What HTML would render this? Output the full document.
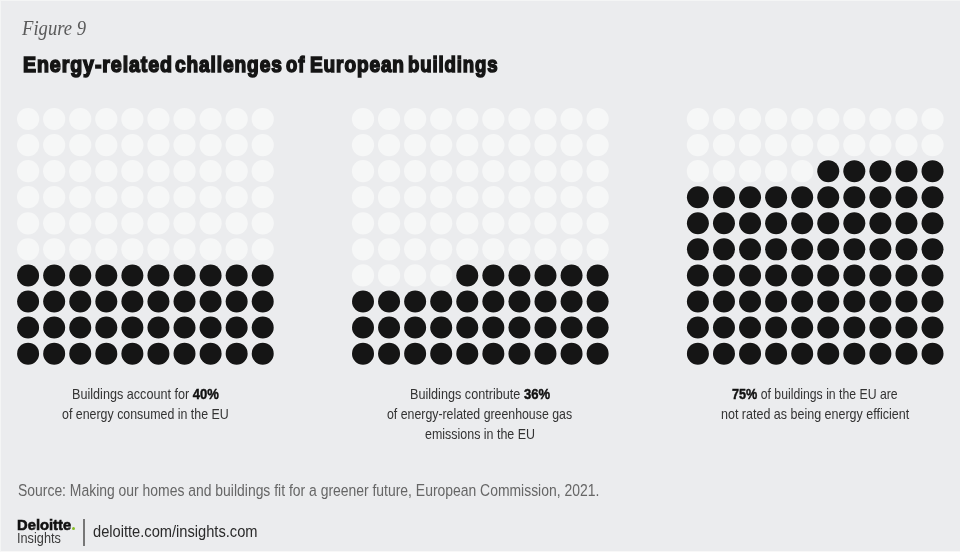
<!DOCTYPE html>
<html><head><meta charset="utf-8"><title>Energy-related challenges of European buildings</title>
<style>
html,body{margin:0;padding:0;}
body{width:960px;height:552px;overflow:hidden;background:#ebecee;position:relative;font-family:'Liberation Sans',Arial,sans-serif;}
#wrap{position:absolute;left:0;top:0;width:960px;height:552px;will-change:transform;}
.frame{position:absolute;left:0;top:0;width:960px;height:552px;box-sizing:border-box;border-top:1px solid #f4f5f5;border-left:1px solid #f4f5f5;border-bottom:1px solid #f8f8f8;}
.t{position:absolute;white-space:nowrap;line-height:20px;transform-origin:0 0;}
.dot{position:absolute;left:71.9px;top:526.7px;width:3.2px;height:3.2px;border-radius:50%;background:#86bc25;}
.sep{position:absolute;left:83.3px;top:519px;width:1.4px;height:27px;background:#777;}
svg{position:absolute;left:0;top:0;}
</style></head><body><div id="wrap">
<div class="frame"></div>
<svg width="960" height="552" viewBox="0 0 960 552">
<circle cx="28.10" cy="119.00" r="11.10" fill="#f6f7f7"/>
<circle cx="54.17" cy="119.00" r="11.10" fill="#f6f7f7"/>
<circle cx="80.24" cy="119.00" r="11.10" fill="#f6f7f7"/>
<circle cx="106.31" cy="119.00" r="11.10" fill="#f6f7f7"/>
<circle cx="132.38" cy="119.00" r="11.10" fill="#f6f7f7"/>
<circle cx="158.45" cy="119.00" r="11.10" fill="#f6f7f7"/>
<circle cx="184.52" cy="119.00" r="11.10" fill="#f6f7f7"/>
<circle cx="210.59" cy="119.00" r="11.10" fill="#f6f7f7"/>
<circle cx="236.66" cy="119.00" r="11.10" fill="#f6f7f7"/>
<circle cx="262.73" cy="119.00" r="11.10" fill="#f6f7f7"/>
<circle cx="28.10" cy="145.07" r="11.10" fill="#f6f7f7"/>
<circle cx="54.17" cy="145.07" r="11.10" fill="#f6f7f7"/>
<circle cx="80.24" cy="145.07" r="11.10" fill="#f6f7f7"/>
<circle cx="106.31" cy="145.07" r="11.10" fill="#f6f7f7"/>
<circle cx="132.38" cy="145.07" r="11.10" fill="#f6f7f7"/>
<circle cx="158.45" cy="145.07" r="11.10" fill="#f6f7f7"/>
<circle cx="184.52" cy="145.07" r="11.10" fill="#f6f7f7"/>
<circle cx="210.59" cy="145.07" r="11.10" fill="#f6f7f7"/>
<circle cx="236.66" cy="145.07" r="11.10" fill="#f6f7f7"/>
<circle cx="262.73" cy="145.07" r="11.10" fill="#f6f7f7"/>
<circle cx="28.10" cy="171.14" r="11.10" fill="#f6f7f7"/>
<circle cx="54.17" cy="171.14" r="11.10" fill="#f6f7f7"/>
<circle cx="80.24" cy="171.14" r="11.10" fill="#f6f7f7"/>
<circle cx="106.31" cy="171.14" r="11.10" fill="#f6f7f7"/>
<circle cx="132.38" cy="171.14" r="11.10" fill="#f6f7f7"/>
<circle cx="158.45" cy="171.14" r="11.10" fill="#f6f7f7"/>
<circle cx="184.52" cy="171.14" r="11.10" fill="#f6f7f7"/>
<circle cx="210.59" cy="171.14" r="11.10" fill="#f6f7f7"/>
<circle cx="236.66" cy="171.14" r="11.10" fill="#f6f7f7"/>
<circle cx="262.73" cy="171.14" r="11.10" fill="#f6f7f7"/>
<circle cx="28.10" cy="197.21" r="11.10" fill="#f6f7f7"/>
<circle cx="54.17" cy="197.21" r="11.10" fill="#f6f7f7"/>
<circle cx="80.24" cy="197.21" r="11.10" fill="#f6f7f7"/>
<circle cx="106.31" cy="197.21" r="11.10" fill="#f6f7f7"/>
<circle cx="132.38" cy="197.21" r="11.10" fill="#f6f7f7"/>
<circle cx="158.45" cy="197.21" r="11.10" fill="#f6f7f7"/>
<circle cx="184.52" cy="197.21" r="11.10" fill="#f6f7f7"/>
<circle cx="210.59" cy="197.21" r="11.10" fill="#f6f7f7"/>
<circle cx="236.66" cy="197.21" r="11.10" fill="#f6f7f7"/>
<circle cx="262.73" cy="197.21" r="11.10" fill="#f6f7f7"/>
<circle cx="28.10" cy="223.28" r="11.10" fill="#f6f7f7"/>
<circle cx="54.17" cy="223.28" r="11.10" fill="#f6f7f7"/>
<circle cx="80.24" cy="223.28" r="11.10" fill="#f6f7f7"/>
<circle cx="106.31" cy="223.28" r="11.10" fill="#f6f7f7"/>
<circle cx="132.38" cy="223.28" r="11.10" fill="#f6f7f7"/>
<circle cx="158.45" cy="223.28" r="11.10" fill="#f6f7f7"/>
<circle cx="184.52" cy="223.28" r="11.10" fill="#f6f7f7"/>
<circle cx="210.59" cy="223.28" r="11.10" fill="#f6f7f7"/>
<circle cx="236.66" cy="223.28" r="11.10" fill="#f6f7f7"/>
<circle cx="262.73" cy="223.28" r="11.10" fill="#f6f7f7"/>
<circle cx="28.10" cy="249.35" r="11.10" fill="#f6f7f7"/>
<circle cx="54.17" cy="249.35" r="11.10" fill="#f6f7f7"/>
<circle cx="80.24" cy="249.35" r="11.10" fill="#f6f7f7"/>
<circle cx="106.31" cy="249.35" r="11.10" fill="#f6f7f7"/>
<circle cx="132.38" cy="249.35" r="11.10" fill="#f6f7f7"/>
<circle cx="158.45" cy="249.35" r="11.10" fill="#f6f7f7"/>
<circle cx="184.52" cy="249.35" r="11.10" fill="#f6f7f7"/>
<circle cx="210.59" cy="249.35" r="11.10" fill="#f6f7f7"/>
<circle cx="236.66" cy="249.35" r="11.10" fill="#f6f7f7"/>
<circle cx="262.73" cy="249.35" r="11.10" fill="#f6f7f7"/>
<circle cx="28.10" cy="275.42" r="11.60" fill="#f2f3f4"/>
<circle cx="28.10" cy="275.42" r="11.00" fill="#151515"/>
<circle cx="54.17" cy="275.42" r="11.60" fill="#f2f3f4"/>
<circle cx="54.17" cy="275.42" r="11.00" fill="#151515"/>
<circle cx="80.24" cy="275.42" r="11.60" fill="#f2f3f4"/>
<circle cx="80.24" cy="275.42" r="11.00" fill="#151515"/>
<circle cx="106.31" cy="275.42" r="11.60" fill="#f2f3f4"/>
<circle cx="106.31" cy="275.42" r="11.00" fill="#151515"/>
<circle cx="132.38" cy="275.42" r="11.60" fill="#f2f3f4"/>
<circle cx="132.38" cy="275.42" r="11.00" fill="#151515"/>
<circle cx="158.45" cy="275.42" r="11.60" fill="#f2f3f4"/>
<circle cx="158.45" cy="275.42" r="11.00" fill="#151515"/>
<circle cx="184.52" cy="275.42" r="11.60" fill="#f2f3f4"/>
<circle cx="184.52" cy="275.42" r="11.00" fill="#151515"/>
<circle cx="210.59" cy="275.42" r="11.60" fill="#f2f3f4"/>
<circle cx="210.59" cy="275.42" r="11.00" fill="#151515"/>
<circle cx="236.66" cy="275.42" r="11.60" fill="#f2f3f4"/>
<circle cx="236.66" cy="275.42" r="11.00" fill="#151515"/>
<circle cx="262.73" cy="275.42" r="11.60" fill="#f2f3f4"/>
<circle cx="262.73" cy="275.42" r="11.00" fill="#151515"/>
<circle cx="28.10" cy="301.49" r="11.60" fill="#f2f3f4"/>
<circle cx="28.10" cy="301.49" r="11.00" fill="#151515"/>
<circle cx="54.17" cy="301.49" r="11.60" fill="#f2f3f4"/>
<circle cx="54.17" cy="301.49" r="11.00" fill="#151515"/>
<circle cx="80.24" cy="301.49" r="11.60" fill="#f2f3f4"/>
<circle cx="80.24" cy="301.49" r="11.00" fill="#151515"/>
<circle cx="106.31" cy="301.49" r="11.60" fill="#f2f3f4"/>
<circle cx="106.31" cy="301.49" r="11.00" fill="#151515"/>
<circle cx="132.38" cy="301.49" r="11.60" fill="#f2f3f4"/>
<circle cx="132.38" cy="301.49" r="11.00" fill="#151515"/>
<circle cx="158.45" cy="301.49" r="11.60" fill="#f2f3f4"/>
<circle cx="158.45" cy="301.49" r="11.00" fill="#151515"/>
<circle cx="184.52" cy="301.49" r="11.60" fill="#f2f3f4"/>
<circle cx="184.52" cy="301.49" r="11.00" fill="#151515"/>
<circle cx="210.59" cy="301.49" r="11.60" fill="#f2f3f4"/>
<circle cx="210.59" cy="301.49" r="11.00" fill="#151515"/>
<circle cx="236.66" cy="301.49" r="11.60" fill="#f2f3f4"/>
<circle cx="236.66" cy="301.49" r="11.00" fill="#151515"/>
<circle cx="262.73" cy="301.49" r="11.60" fill="#f2f3f4"/>
<circle cx="262.73" cy="301.49" r="11.00" fill="#151515"/>
<circle cx="28.10" cy="327.56" r="11.60" fill="#f2f3f4"/>
<circle cx="28.10" cy="327.56" r="11.00" fill="#151515"/>
<circle cx="54.17" cy="327.56" r="11.60" fill="#f2f3f4"/>
<circle cx="54.17" cy="327.56" r="11.00" fill="#151515"/>
<circle cx="80.24" cy="327.56" r="11.60" fill="#f2f3f4"/>
<circle cx="80.24" cy="327.56" r="11.00" fill="#151515"/>
<circle cx="106.31" cy="327.56" r="11.60" fill="#f2f3f4"/>
<circle cx="106.31" cy="327.56" r="11.00" fill="#151515"/>
<circle cx="132.38" cy="327.56" r="11.60" fill="#f2f3f4"/>
<circle cx="132.38" cy="327.56" r="11.00" fill="#151515"/>
<circle cx="158.45" cy="327.56" r="11.60" fill="#f2f3f4"/>
<circle cx="158.45" cy="327.56" r="11.00" fill="#151515"/>
<circle cx="184.52" cy="327.56" r="11.60" fill="#f2f3f4"/>
<circle cx="184.52" cy="327.56" r="11.00" fill="#151515"/>
<circle cx="210.59" cy="327.56" r="11.60" fill="#f2f3f4"/>
<circle cx="210.59" cy="327.56" r="11.00" fill="#151515"/>
<circle cx="236.66" cy="327.56" r="11.60" fill="#f2f3f4"/>
<circle cx="236.66" cy="327.56" r="11.00" fill="#151515"/>
<circle cx="262.73" cy="327.56" r="11.60" fill="#f2f3f4"/>
<circle cx="262.73" cy="327.56" r="11.00" fill="#151515"/>
<circle cx="28.10" cy="353.63" r="11.60" fill="#f2f3f4"/>
<circle cx="28.10" cy="353.63" r="11.00" fill="#151515"/>
<circle cx="54.17" cy="353.63" r="11.60" fill="#f2f3f4"/>
<circle cx="54.17" cy="353.63" r="11.00" fill="#151515"/>
<circle cx="80.24" cy="353.63" r="11.60" fill="#f2f3f4"/>
<circle cx="80.24" cy="353.63" r="11.00" fill="#151515"/>
<circle cx="106.31" cy="353.63" r="11.60" fill="#f2f3f4"/>
<circle cx="106.31" cy="353.63" r="11.00" fill="#151515"/>
<circle cx="132.38" cy="353.63" r="11.60" fill="#f2f3f4"/>
<circle cx="132.38" cy="353.63" r="11.00" fill="#151515"/>
<circle cx="158.45" cy="353.63" r="11.60" fill="#f2f3f4"/>
<circle cx="158.45" cy="353.63" r="11.00" fill="#151515"/>
<circle cx="184.52" cy="353.63" r="11.60" fill="#f2f3f4"/>
<circle cx="184.52" cy="353.63" r="11.00" fill="#151515"/>
<circle cx="210.59" cy="353.63" r="11.60" fill="#f2f3f4"/>
<circle cx="210.59" cy="353.63" r="11.00" fill="#151515"/>
<circle cx="236.66" cy="353.63" r="11.60" fill="#f2f3f4"/>
<circle cx="236.66" cy="353.63" r="11.00" fill="#151515"/>
<circle cx="262.73" cy="353.63" r="11.60" fill="#f2f3f4"/>
<circle cx="262.73" cy="353.63" r="11.00" fill="#151515"/>
<circle cx="363.00" cy="119.00" r="11.10" fill="#f6f7f7"/>
<circle cx="389.07" cy="119.00" r="11.10" fill="#f6f7f7"/>
<circle cx="415.14" cy="119.00" r="11.10" fill="#f6f7f7"/>
<circle cx="441.21" cy="119.00" r="11.10" fill="#f6f7f7"/>
<circle cx="467.28" cy="119.00" r="11.10" fill="#f6f7f7"/>
<circle cx="493.35" cy="119.00" r="11.10" fill="#f6f7f7"/>
<circle cx="519.42" cy="119.00" r="11.10" fill="#f6f7f7"/>
<circle cx="545.49" cy="119.00" r="11.10" fill="#f6f7f7"/>
<circle cx="571.56" cy="119.00" r="11.10" fill="#f6f7f7"/>
<circle cx="597.63" cy="119.00" r="11.10" fill="#f6f7f7"/>
<circle cx="363.00" cy="145.07" r="11.10" fill="#f6f7f7"/>
<circle cx="389.07" cy="145.07" r="11.10" fill="#f6f7f7"/>
<circle cx="415.14" cy="145.07" r="11.10" fill="#f6f7f7"/>
<circle cx="441.21" cy="145.07" r="11.10" fill="#f6f7f7"/>
<circle cx="467.28" cy="145.07" r="11.10" fill="#f6f7f7"/>
<circle cx="493.35" cy="145.07" r="11.10" fill="#f6f7f7"/>
<circle cx="519.42" cy="145.07" r="11.10" fill="#f6f7f7"/>
<circle cx="545.49" cy="145.07" r="11.10" fill="#f6f7f7"/>
<circle cx="571.56" cy="145.07" r="11.10" fill="#f6f7f7"/>
<circle cx="597.63" cy="145.07" r="11.10" fill="#f6f7f7"/>
<circle cx="363.00" cy="171.14" r="11.10" fill="#f6f7f7"/>
<circle cx="389.07" cy="171.14" r="11.10" fill="#f6f7f7"/>
<circle cx="415.14" cy="171.14" r="11.10" fill="#f6f7f7"/>
<circle cx="441.21" cy="171.14" r="11.10" fill="#f6f7f7"/>
<circle cx="467.28" cy="171.14" r="11.10" fill="#f6f7f7"/>
<circle cx="493.35" cy="171.14" r="11.10" fill="#f6f7f7"/>
<circle cx="519.42" cy="171.14" r="11.10" fill="#f6f7f7"/>
<circle cx="545.49" cy="171.14" r="11.10" fill="#f6f7f7"/>
<circle cx="571.56" cy="171.14" r="11.10" fill="#f6f7f7"/>
<circle cx="597.63" cy="171.14" r="11.10" fill="#f6f7f7"/>
<circle cx="363.00" cy="197.21" r="11.10" fill="#f6f7f7"/>
<circle cx="389.07" cy="197.21" r="11.10" fill="#f6f7f7"/>
<circle cx="415.14" cy="197.21" r="11.10" fill="#f6f7f7"/>
<circle cx="441.21" cy="197.21" r="11.10" fill="#f6f7f7"/>
<circle cx="467.28" cy="197.21" r="11.10" fill="#f6f7f7"/>
<circle cx="493.35" cy="197.21" r="11.10" fill="#f6f7f7"/>
<circle cx="519.42" cy="197.21" r="11.10" fill="#f6f7f7"/>
<circle cx="545.49" cy="197.21" r="11.10" fill="#f6f7f7"/>
<circle cx="571.56" cy="197.21" r="11.10" fill="#f6f7f7"/>
<circle cx="597.63" cy="197.21" r="11.10" fill="#f6f7f7"/>
<circle cx="363.00" cy="223.28" r="11.10" fill="#f6f7f7"/>
<circle cx="389.07" cy="223.28" r="11.10" fill="#f6f7f7"/>
<circle cx="415.14" cy="223.28" r="11.10" fill="#f6f7f7"/>
<circle cx="441.21" cy="223.28" r="11.10" fill="#f6f7f7"/>
<circle cx="467.28" cy="223.28" r="11.10" fill="#f6f7f7"/>
<circle cx="493.35" cy="223.28" r="11.10" fill="#f6f7f7"/>
<circle cx="519.42" cy="223.28" r="11.10" fill="#f6f7f7"/>
<circle cx="545.49" cy="223.28" r="11.10" fill="#f6f7f7"/>
<circle cx="571.56" cy="223.28" r="11.10" fill="#f6f7f7"/>
<circle cx="597.63" cy="223.28" r="11.10" fill="#f6f7f7"/>
<circle cx="363.00" cy="249.35" r="11.10" fill="#f6f7f7"/>
<circle cx="389.07" cy="249.35" r="11.10" fill="#f6f7f7"/>
<circle cx="415.14" cy="249.35" r="11.10" fill="#f6f7f7"/>
<circle cx="441.21" cy="249.35" r="11.10" fill="#f6f7f7"/>
<circle cx="467.28" cy="249.35" r="11.10" fill="#f6f7f7"/>
<circle cx="493.35" cy="249.35" r="11.10" fill="#f6f7f7"/>
<circle cx="519.42" cy="249.35" r="11.10" fill="#f6f7f7"/>
<circle cx="545.49" cy="249.35" r="11.10" fill="#f6f7f7"/>
<circle cx="571.56" cy="249.35" r="11.10" fill="#f6f7f7"/>
<circle cx="597.63" cy="249.35" r="11.10" fill="#f6f7f7"/>
<circle cx="363.00" cy="275.42" r="11.10" fill="#f6f7f7"/>
<circle cx="389.07" cy="275.42" r="11.10" fill="#f6f7f7"/>
<circle cx="415.14" cy="275.42" r="11.10" fill="#f6f7f7"/>
<circle cx="441.21" cy="275.42" r="11.10" fill="#f6f7f7"/>
<circle cx="467.28" cy="275.42" r="11.60" fill="#f2f3f4"/>
<circle cx="467.28" cy="275.42" r="11.00" fill="#151515"/>
<circle cx="493.35" cy="275.42" r="11.60" fill="#f2f3f4"/>
<circle cx="493.35" cy="275.42" r="11.00" fill="#151515"/>
<circle cx="519.42" cy="275.42" r="11.60" fill="#f2f3f4"/>
<circle cx="519.42" cy="275.42" r="11.00" fill="#151515"/>
<circle cx="545.49" cy="275.42" r="11.60" fill="#f2f3f4"/>
<circle cx="545.49" cy="275.42" r="11.00" fill="#151515"/>
<circle cx="571.56" cy="275.42" r="11.60" fill="#f2f3f4"/>
<circle cx="571.56" cy="275.42" r="11.00" fill="#151515"/>
<circle cx="597.63" cy="275.42" r="11.60" fill="#f2f3f4"/>
<circle cx="597.63" cy="275.42" r="11.00" fill="#151515"/>
<circle cx="363.00" cy="301.49" r="11.60" fill="#f2f3f4"/>
<circle cx="363.00" cy="301.49" r="11.00" fill="#151515"/>
<circle cx="389.07" cy="301.49" r="11.60" fill="#f2f3f4"/>
<circle cx="389.07" cy="301.49" r="11.00" fill="#151515"/>
<circle cx="415.14" cy="301.49" r="11.60" fill="#f2f3f4"/>
<circle cx="415.14" cy="301.49" r="11.00" fill="#151515"/>
<circle cx="441.21" cy="301.49" r="11.60" fill="#f2f3f4"/>
<circle cx="441.21" cy="301.49" r="11.00" fill="#151515"/>
<circle cx="467.28" cy="301.49" r="11.60" fill="#f2f3f4"/>
<circle cx="467.28" cy="301.49" r="11.00" fill="#151515"/>
<circle cx="493.35" cy="301.49" r="11.60" fill="#f2f3f4"/>
<circle cx="493.35" cy="301.49" r="11.00" fill="#151515"/>
<circle cx="519.42" cy="301.49" r="11.60" fill="#f2f3f4"/>
<circle cx="519.42" cy="301.49" r="11.00" fill="#151515"/>
<circle cx="545.49" cy="301.49" r="11.60" fill="#f2f3f4"/>
<circle cx="545.49" cy="301.49" r="11.00" fill="#151515"/>
<circle cx="571.56" cy="301.49" r="11.60" fill="#f2f3f4"/>
<circle cx="571.56" cy="301.49" r="11.00" fill="#151515"/>
<circle cx="597.63" cy="301.49" r="11.60" fill="#f2f3f4"/>
<circle cx="597.63" cy="301.49" r="11.00" fill="#151515"/>
<circle cx="363.00" cy="327.56" r="11.60" fill="#f2f3f4"/>
<circle cx="363.00" cy="327.56" r="11.00" fill="#151515"/>
<circle cx="389.07" cy="327.56" r="11.60" fill="#f2f3f4"/>
<circle cx="389.07" cy="327.56" r="11.00" fill="#151515"/>
<circle cx="415.14" cy="327.56" r="11.60" fill="#f2f3f4"/>
<circle cx="415.14" cy="327.56" r="11.00" fill="#151515"/>
<circle cx="441.21" cy="327.56" r="11.60" fill="#f2f3f4"/>
<circle cx="441.21" cy="327.56" r="11.00" fill="#151515"/>
<circle cx="467.28" cy="327.56" r="11.60" fill="#f2f3f4"/>
<circle cx="467.28" cy="327.56" r="11.00" fill="#151515"/>
<circle cx="493.35" cy="327.56" r="11.60" fill="#f2f3f4"/>
<circle cx="493.35" cy="327.56" r="11.00" fill="#151515"/>
<circle cx="519.42" cy="327.56" r="11.60" fill="#f2f3f4"/>
<circle cx="519.42" cy="327.56" r="11.00" fill="#151515"/>
<circle cx="545.49" cy="327.56" r="11.60" fill="#f2f3f4"/>
<circle cx="545.49" cy="327.56" r="11.00" fill="#151515"/>
<circle cx="571.56" cy="327.56" r="11.60" fill="#f2f3f4"/>
<circle cx="571.56" cy="327.56" r="11.00" fill="#151515"/>
<circle cx="597.63" cy="327.56" r="11.60" fill="#f2f3f4"/>
<circle cx="597.63" cy="327.56" r="11.00" fill="#151515"/>
<circle cx="363.00" cy="353.63" r="11.60" fill="#f2f3f4"/>
<circle cx="363.00" cy="353.63" r="11.00" fill="#151515"/>
<circle cx="389.07" cy="353.63" r="11.60" fill="#f2f3f4"/>
<circle cx="389.07" cy="353.63" r="11.00" fill="#151515"/>
<circle cx="415.14" cy="353.63" r="11.60" fill="#f2f3f4"/>
<circle cx="415.14" cy="353.63" r="11.00" fill="#151515"/>
<circle cx="441.21" cy="353.63" r="11.60" fill="#f2f3f4"/>
<circle cx="441.21" cy="353.63" r="11.00" fill="#151515"/>
<circle cx="467.28" cy="353.63" r="11.60" fill="#f2f3f4"/>
<circle cx="467.28" cy="353.63" r="11.00" fill="#151515"/>
<circle cx="493.35" cy="353.63" r="11.60" fill="#f2f3f4"/>
<circle cx="493.35" cy="353.63" r="11.00" fill="#151515"/>
<circle cx="519.42" cy="353.63" r="11.60" fill="#f2f3f4"/>
<circle cx="519.42" cy="353.63" r="11.00" fill="#151515"/>
<circle cx="545.49" cy="353.63" r="11.60" fill="#f2f3f4"/>
<circle cx="545.49" cy="353.63" r="11.00" fill="#151515"/>
<circle cx="571.56" cy="353.63" r="11.60" fill="#f2f3f4"/>
<circle cx="571.56" cy="353.63" r="11.00" fill="#151515"/>
<circle cx="597.63" cy="353.63" r="11.60" fill="#f2f3f4"/>
<circle cx="597.63" cy="353.63" r="11.00" fill="#151515"/>
<circle cx="697.90" cy="119.00" r="11.10" fill="#f6f7f7"/>
<circle cx="723.97" cy="119.00" r="11.10" fill="#f6f7f7"/>
<circle cx="750.04" cy="119.00" r="11.10" fill="#f6f7f7"/>
<circle cx="776.11" cy="119.00" r="11.10" fill="#f6f7f7"/>
<circle cx="802.18" cy="119.00" r="11.10" fill="#f6f7f7"/>
<circle cx="828.25" cy="119.00" r="11.10" fill="#f6f7f7"/>
<circle cx="854.32" cy="119.00" r="11.10" fill="#f6f7f7"/>
<circle cx="880.39" cy="119.00" r="11.10" fill="#f6f7f7"/>
<circle cx="906.46" cy="119.00" r="11.10" fill="#f6f7f7"/>
<circle cx="932.53" cy="119.00" r="11.10" fill="#f6f7f7"/>
<circle cx="697.90" cy="145.07" r="11.10" fill="#f6f7f7"/>
<circle cx="723.97" cy="145.07" r="11.10" fill="#f6f7f7"/>
<circle cx="750.04" cy="145.07" r="11.10" fill="#f6f7f7"/>
<circle cx="776.11" cy="145.07" r="11.10" fill="#f6f7f7"/>
<circle cx="802.18" cy="145.07" r="11.10" fill="#f6f7f7"/>
<circle cx="828.25" cy="145.07" r="11.10" fill="#f6f7f7"/>
<circle cx="854.32" cy="145.07" r="11.10" fill="#f6f7f7"/>
<circle cx="880.39" cy="145.07" r="11.10" fill="#f6f7f7"/>
<circle cx="906.46" cy="145.07" r="11.10" fill="#f6f7f7"/>
<circle cx="932.53" cy="145.07" r="11.10" fill="#f6f7f7"/>
<circle cx="697.90" cy="171.14" r="11.10" fill="#f6f7f7"/>
<circle cx="723.97" cy="171.14" r="11.10" fill="#f6f7f7"/>
<circle cx="750.04" cy="171.14" r="11.10" fill="#f6f7f7"/>
<circle cx="776.11" cy="171.14" r="11.10" fill="#f6f7f7"/>
<circle cx="802.18" cy="171.14" r="11.10" fill="#f6f7f7"/>
<circle cx="828.25" cy="171.14" r="11.60" fill="#f2f3f4"/>
<circle cx="828.25" cy="171.14" r="11.00" fill="#151515"/>
<circle cx="854.32" cy="171.14" r="11.60" fill="#f2f3f4"/>
<circle cx="854.32" cy="171.14" r="11.00" fill="#151515"/>
<circle cx="880.39" cy="171.14" r="11.60" fill="#f2f3f4"/>
<circle cx="880.39" cy="171.14" r="11.00" fill="#151515"/>
<circle cx="906.46" cy="171.14" r="11.60" fill="#f2f3f4"/>
<circle cx="906.46" cy="171.14" r="11.00" fill="#151515"/>
<circle cx="932.53" cy="171.14" r="11.60" fill="#f2f3f4"/>
<circle cx="932.53" cy="171.14" r="11.00" fill="#151515"/>
<circle cx="697.90" cy="197.21" r="11.60" fill="#f2f3f4"/>
<circle cx="697.90" cy="197.21" r="11.00" fill="#151515"/>
<circle cx="723.97" cy="197.21" r="11.60" fill="#f2f3f4"/>
<circle cx="723.97" cy="197.21" r="11.00" fill="#151515"/>
<circle cx="750.04" cy="197.21" r="11.60" fill="#f2f3f4"/>
<circle cx="750.04" cy="197.21" r="11.00" fill="#151515"/>
<circle cx="776.11" cy="197.21" r="11.60" fill="#f2f3f4"/>
<circle cx="776.11" cy="197.21" r="11.00" fill="#151515"/>
<circle cx="802.18" cy="197.21" r="11.60" fill="#f2f3f4"/>
<circle cx="802.18" cy="197.21" r="11.00" fill="#151515"/>
<circle cx="828.25" cy="197.21" r="11.60" fill="#f2f3f4"/>
<circle cx="828.25" cy="197.21" r="11.00" fill="#151515"/>
<circle cx="854.32" cy="197.21" r="11.60" fill="#f2f3f4"/>
<circle cx="854.32" cy="197.21" r="11.00" fill="#151515"/>
<circle cx="880.39" cy="197.21" r="11.60" fill="#f2f3f4"/>
<circle cx="880.39" cy="197.21" r="11.00" fill="#151515"/>
<circle cx="906.46" cy="197.21" r="11.60" fill="#f2f3f4"/>
<circle cx="906.46" cy="197.21" r="11.00" fill="#151515"/>
<circle cx="932.53" cy="197.21" r="11.60" fill="#f2f3f4"/>
<circle cx="932.53" cy="197.21" r="11.00" fill="#151515"/>
<circle cx="697.90" cy="223.28" r="11.60" fill="#f2f3f4"/>
<circle cx="697.90" cy="223.28" r="11.00" fill="#151515"/>
<circle cx="723.97" cy="223.28" r="11.60" fill="#f2f3f4"/>
<circle cx="723.97" cy="223.28" r="11.00" fill="#151515"/>
<circle cx="750.04" cy="223.28" r="11.60" fill="#f2f3f4"/>
<circle cx="750.04" cy="223.28" r="11.00" fill="#151515"/>
<circle cx="776.11" cy="223.28" r="11.60" fill="#f2f3f4"/>
<circle cx="776.11" cy="223.28" r="11.00" fill="#151515"/>
<circle cx="802.18" cy="223.28" r="11.60" fill="#f2f3f4"/>
<circle cx="802.18" cy="223.28" r="11.00" fill="#151515"/>
<circle cx="828.25" cy="223.28" r="11.60" fill="#f2f3f4"/>
<circle cx="828.25" cy="223.28" r="11.00" fill="#151515"/>
<circle cx="854.32" cy="223.28" r="11.60" fill="#f2f3f4"/>
<circle cx="854.32" cy="223.28" r="11.00" fill="#151515"/>
<circle cx="880.39" cy="223.28" r="11.60" fill="#f2f3f4"/>
<circle cx="880.39" cy="223.28" r="11.00" fill="#151515"/>
<circle cx="906.46" cy="223.28" r="11.60" fill="#f2f3f4"/>
<circle cx="906.46" cy="223.28" r="11.00" fill="#151515"/>
<circle cx="932.53" cy="223.28" r="11.60" fill="#f2f3f4"/>
<circle cx="932.53" cy="223.28" r="11.00" fill="#151515"/>
<circle cx="697.90" cy="249.35" r="11.60" fill="#f2f3f4"/>
<circle cx="697.90" cy="249.35" r="11.00" fill="#151515"/>
<circle cx="723.97" cy="249.35" r="11.60" fill="#f2f3f4"/>
<circle cx="723.97" cy="249.35" r="11.00" fill="#151515"/>
<circle cx="750.04" cy="249.35" r="11.60" fill="#f2f3f4"/>
<circle cx="750.04" cy="249.35" r="11.00" fill="#151515"/>
<circle cx="776.11" cy="249.35" r="11.60" fill="#f2f3f4"/>
<circle cx="776.11" cy="249.35" r="11.00" fill="#151515"/>
<circle cx="802.18" cy="249.35" r="11.60" fill="#f2f3f4"/>
<circle cx="802.18" cy="249.35" r="11.00" fill="#151515"/>
<circle cx="828.25" cy="249.35" r="11.60" fill="#f2f3f4"/>
<circle cx="828.25" cy="249.35" r="11.00" fill="#151515"/>
<circle cx="854.32" cy="249.35" r="11.60" fill="#f2f3f4"/>
<circle cx="854.32" cy="249.35" r="11.00" fill="#151515"/>
<circle cx="880.39" cy="249.35" r="11.60" fill="#f2f3f4"/>
<circle cx="880.39" cy="249.35" r="11.00" fill="#151515"/>
<circle cx="906.46" cy="249.35" r="11.60" fill="#f2f3f4"/>
<circle cx="906.46" cy="249.35" r="11.00" fill="#151515"/>
<circle cx="932.53" cy="249.35" r="11.60" fill="#f2f3f4"/>
<circle cx="932.53" cy="249.35" r="11.00" fill="#151515"/>
<circle cx="697.90" cy="275.42" r="11.60" fill="#f2f3f4"/>
<circle cx="697.90" cy="275.42" r="11.00" fill="#151515"/>
<circle cx="723.97" cy="275.42" r="11.60" fill="#f2f3f4"/>
<circle cx="723.97" cy="275.42" r="11.00" fill="#151515"/>
<circle cx="750.04" cy="275.42" r="11.60" fill="#f2f3f4"/>
<circle cx="750.04" cy="275.42" r="11.00" fill="#151515"/>
<circle cx="776.11" cy="275.42" r="11.60" fill="#f2f3f4"/>
<circle cx="776.11" cy="275.42" r="11.00" fill="#151515"/>
<circle cx="802.18" cy="275.42" r="11.60" fill="#f2f3f4"/>
<circle cx="802.18" cy="275.42" r="11.00" fill="#151515"/>
<circle cx="828.25" cy="275.42" r="11.60" fill="#f2f3f4"/>
<circle cx="828.25" cy="275.42" r="11.00" fill="#151515"/>
<circle cx="854.32" cy="275.42" r="11.60" fill="#f2f3f4"/>
<circle cx="854.32" cy="275.42" r="11.00" fill="#151515"/>
<circle cx="880.39" cy="275.42" r="11.60" fill="#f2f3f4"/>
<circle cx="880.39" cy="275.42" r="11.00" fill="#151515"/>
<circle cx="906.46" cy="275.42" r="11.60" fill="#f2f3f4"/>
<circle cx="906.46" cy="275.42" r="11.00" fill="#151515"/>
<circle cx="932.53" cy="275.42" r="11.60" fill="#f2f3f4"/>
<circle cx="932.53" cy="275.42" r="11.00" fill="#151515"/>
<circle cx="697.90" cy="301.49" r="11.60" fill="#f2f3f4"/>
<circle cx="697.90" cy="301.49" r="11.00" fill="#151515"/>
<circle cx="723.97" cy="301.49" r="11.60" fill="#f2f3f4"/>
<circle cx="723.97" cy="301.49" r="11.00" fill="#151515"/>
<circle cx="750.04" cy="301.49" r="11.60" fill="#f2f3f4"/>
<circle cx="750.04" cy="301.49" r="11.00" fill="#151515"/>
<circle cx="776.11" cy="301.49" r="11.60" fill="#f2f3f4"/>
<circle cx="776.11" cy="301.49" r="11.00" fill="#151515"/>
<circle cx="802.18" cy="301.49" r="11.60" fill="#f2f3f4"/>
<circle cx="802.18" cy="301.49" r="11.00" fill="#151515"/>
<circle cx="828.25" cy="301.49" r="11.60" fill="#f2f3f4"/>
<circle cx="828.25" cy="301.49" r="11.00" fill="#151515"/>
<circle cx="854.32" cy="301.49" r="11.60" fill="#f2f3f4"/>
<circle cx="854.32" cy="301.49" r="11.00" fill="#151515"/>
<circle cx="880.39" cy="301.49" r="11.60" fill="#f2f3f4"/>
<circle cx="880.39" cy="301.49" r="11.00" fill="#151515"/>
<circle cx="906.46" cy="301.49" r="11.60" fill="#f2f3f4"/>
<circle cx="906.46" cy="301.49" r="11.00" fill="#151515"/>
<circle cx="932.53" cy="301.49" r="11.60" fill="#f2f3f4"/>
<circle cx="932.53" cy="301.49" r="11.00" fill="#151515"/>
<circle cx="697.90" cy="327.56" r="11.60" fill="#f2f3f4"/>
<circle cx="697.90" cy="327.56" r="11.00" fill="#151515"/>
<circle cx="723.97" cy="327.56" r="11.60" fill="#f2f3f4"/>
<circle cx="723.97" cy="327.56" r="11.00" fill="#151515"/>
<circle cx="750.04" cy="327.56" r="11.60" fill="#f2f3f4"/>
<circle cx="750.04" cy="327.56" r="11.00" fill="#151515"/>
<circle cx="776.11" cy="327.56" r="11.60" fill="#f2f3f4"/>
<circle cx="776.11" cy="327.56" r="11.00" fill="#151515"/>
<circle cx="802.18" cy="327.56" r="11.60" fill="#f2f3f4"/>
<circle cx="802.18" cy="327.56" r="11.00" fill="#151515"/>
<circle cx="828.25" cy="327.56" r="11.60" fill="#f2f3f4"/>
<circle cx="828.25" cy="327.56" r="11.00" fill="#151515"/>
<circle cx="854.32" cy="327.56" r="11.60" fill="#f2f3f4"/>
<circle cx="854.32" cy="327.56" r="11.00" fill="#151515"/>
<circle cx="880.39" cy="327.56" r="11.60" fill="#f2f3f4"/>
<circle cx="880.39" cy="327.56" r="11.00" fill="#151515"/>
<circle cx="906.46" cy="327.56" r="11.60" fill="#f2f3f4"/>
<circle cx="906.46" cy="327.56" r="11.00" fill="#151515"/>
<circle cx="932.53" cy="327.56" r="11.60" fill="#f2f3f4"/>
<circle cx="932.53" cy="327.56" r="11.00" fill="#151515"/>
<circle cx="697.90" cy="353.63" r="11.60" fill="#f2f3f4"/>
<circle cx="697.90" cy="353.63" r="11.00" fill="#151515"/>
<circle cx="723.97" cy="353.63" r="11.60" fill="#f2f3f4"/>
<circle cx="723.97" cy="353.63" r="11.00" fill="#151515"/>
<circle cx="750.04" cy="353.63" r="11.60" fill="#f2f3f4"/>
<circle cx="750.04" cy="353.63" r="11.00" fill="#151515"/>
<circle cx="776.11" cy="353.63" r="11.60" fill="#f2f3f4"/>
<circle cx="776.11" cy="353.63" r="11.00" fill="#151515"/>
<circle cx="802.18" cy="353.63" r="11.60" fill="#f2f3f4"/>
<circle cx="802.18" cy="353.63" r="11.00" fill="#151515"/>
<circle cx="828.25" cy="353.63" r="11.60" fill="#f2f3f4"/>
<circle cx="828.25" cy="353.63" r="11.00" fill="#151515"/>
<circle cx="854.32" cy="353.63" r="11.60" fill="#f2f3f4"/>
<circle cx="854.32" cy="353.63" r="11.00" fill="#151515"/>
<circle cx="880.39" cy="353.63" r="11.60" fill="#f2f3f4"/>
<circle cx="880.39" cy="353.63" r="11.00" fill="#151515"/>
<circle cx="906.46" cy="353.63" r="11.60" fill="#f2f3f4"/>
<circle cx="906.46" cy="353.63" r="11.00" fill="#151515"/>
<circle cx="932.53" cy="353.63" r="11.60" fill="#f2f3f4"/>
<circle cx="932.53" cy="353.63" r="11.00" fill="#151515"/>
</svg>
<div class="t" style="left:22.10px;top:18.02px;transform:scaleX(0.9143);font-family:'Liberation Serif',serif;font-style:italic;font-size:20.4px;color:#5a5a5a;">Figure 9</div>
<div class="t" style="left:22.84px;top:55.11px;transform:scaleX(0.9077);font-family:'Liberation Sans',Arial,sans-serif;font-weight:bold;font-size:21.6px;color:#151515;-webkit-text-stroke:1.5px #151515;letter-spacing:1.0px;">Energy-related</div>
<div class="t" style="left:175.40px;top:55.11px;transform:scaleX(0.8858);font-family:'Liberation Sans',Arial,sans-serif;font-weight:bold;font-size:21.6px;color:#151515;-webkit-text-stroke:1.5px #151515;letter-spacing:1.0px;">challenges</div>
<div class="t" style="left:285.80px;top:55.11px;transform:scaleX(0.8545);font-family:'Liberation Sans',Arial,sans-serif;font-weight:bold;font-size:21.6px;color:#151515;-webkit-text-stroke:1.5px #151515;letter-spacing:1.0px;">of</div>
<div class="t" style="left:309.52px;top:55.11px;transform:scaleX(0.8819);font-family:'Liberation Sans',Arial,sans-serif;font-weight:bold;font-size:21.6px;color:#151515;-webkit-text-stroke:1.5px #151515;letter-spacing:1.0px;">European</div>
<div class="t" style="left:407.89px;top:55.11px;transform:scaleX(0.8617);font-family:'Liberation Sans',Arial,sans-serif;font-weight:bold;font-size:21.6px;color:#151515;-webkit-text-stroke:1.5px #151515;letter-spacing:1.0px;">buildings</div>
<div class="t" style="left:72.06px;top:383.70px;transform:scaleX(0.8416);font-family:'Liberation Sans',Arial,sans-serif;font-size:15.0px;color:#333;">Buildings account for <b style="color:#111;-webkit-text-stroke:0.45px #111;font-size:15.5px">40%</b></div>
<div class="t" style="left:61.97px;top:403.60px;transform:scaleX(0.8265);font-family:'Liberation Sans',Arial,sans-serif;font-size:15.0px;color:#333;">of energy consumed in the EU</div>
<div class="t" style="left:410.16px;top:383.70px;transform:scaleX(0.8430);font-family:'Liberation Sans',Arial,sans-serif;font-size:15.0px;color:#333;">Buildings contribute <b style="color:#111;-webkit-text-stroke:0.45px #111;font-size:15.5px">36%</b></div>
<div class="t" style="left:387.28px;top:403.60px;transform:scaleX(0.8219);font-family:'Liberation Sans',Arial,sans-serif;font-size:15.0px;color:#333;">of energy-related greenhouse gas</div>
<div class="t" style="left:425.37px;top:423.60px;transform:scaleX(0.8300);font-family:'Liberation Sans',Arial,sans-serif;font-size:15.0px;color:#333;">emissions in the EU</div>
<div class="t" style="left:732.20px;top:383.70px;transform:scaleX(0.8168);font-family:'Liberation Sans',Arial,sans-serif;font-size:15.0px;color:#333;"><b style="color:#111;-webkit-text-stroke:0.45px #111;font-size:15.5px">75%</b> of buildings in the EU are</div>
<div class="t" style="left:720.87px;top:403.60px;transform:scaleX(0.8335);font-family:'Liberation Sans',Arial,sans-serif;font-size:15.0px;color:#333;">not rated as being energy efficient</div>
<div class="t" style="left:17.90px;top:480.27px;transform:scaleX(0.8007);font-family:'Liberation Sans',Arial,sans-serif;font-size:17.4px;color:#666;">Source: Making our homes and buildings fit for a greener future, European Commission, 2021.</div>
<div class="t" style="left:92.50px;top:521.35px;transform:scaleX(0.9000);font-family:'Liberation Sans',Arial,sans-serif;font-size:16.3px;color:#2a2a2a;">deloitte.com/insights.com</div>
<div class="t" style="left:16.95px;top:514.75px;transform:scaleX(1.0550);font-family:'Liberation Sans',Arial,sans-serif;font-weight:bold;font-size:14px;color:#111;-webkit-text-stroke:0.55px #111;">Deloitte</div>
<div class="t" style="left:17.10px;top:527.78px;transform:scaleX(0.8979);font-family:'Liberation Sans',Arial,sans-serif;font-size:14.2px;color:#3c3c3c;">Insights</div>
<div class="dot"></div>
<div class="sep"></div>
</div></body></html>
